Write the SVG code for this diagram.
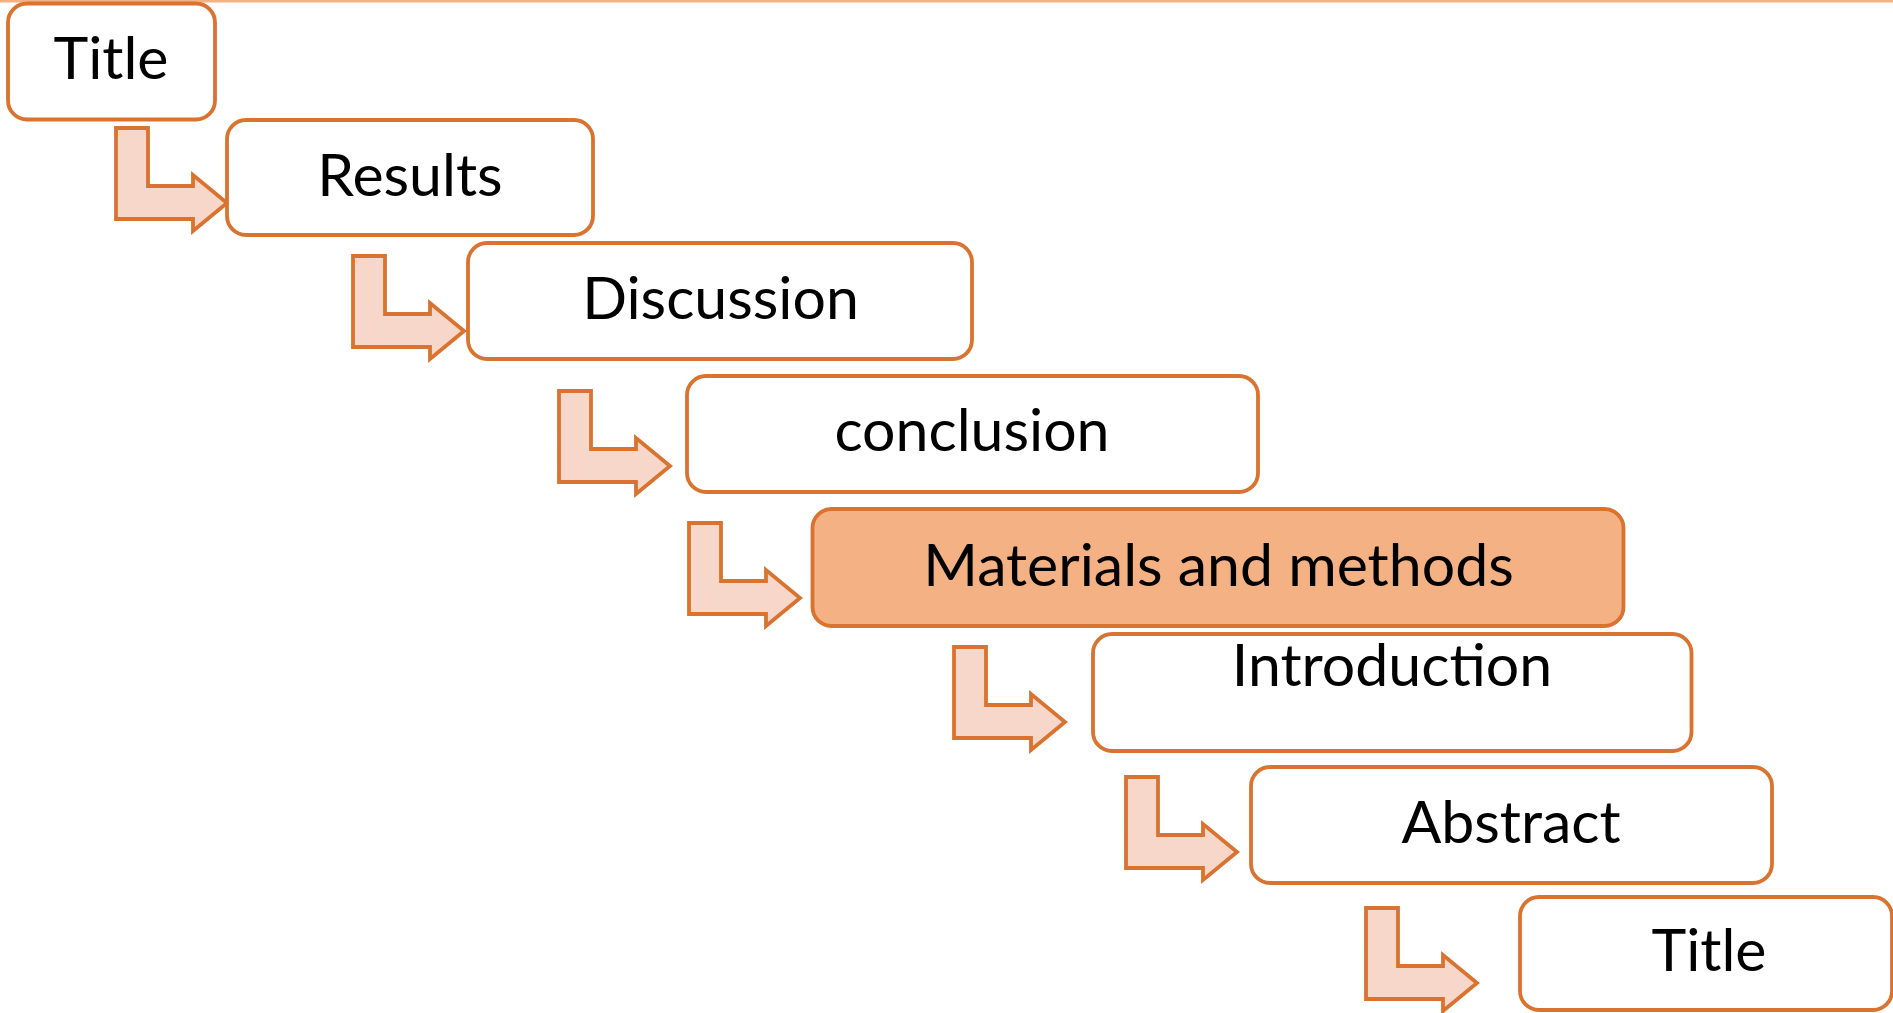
<svg xmlns="http://www.w3.org/2000/svg" width="1893" height="1013" viewBox="0 0 1893 1013">
<style>
.box{fill:#FFFFFF;stroke:#D9732F;stroke-width:3.8}
.hl{fill:#F4B183}
.arr{fill:#F8D7CB;stroke:#D9732F;stroke-width:3.8;stroke-linejoin:miter}
text{font-family:Lato,"Open Sans","Liberation Sans",sans-serif;font-size:59px;fill:#000000;text-anchor:middle}
</style>
<defs>
<path id="bent" d="M0,0 H32 V58 H77 V47 L111,75 L77,103 V91 H0 Z"/>
</defs>
<rect x="0" y="0" width="1893" height="2.5" fill="#F4B183"/>
<g id="connectors">
<use href="#bent" class="arr" x="116" y="128"/>
<use href="#bent" class="arr" x="353" y="256"/>
<use href="#bent" class="arr" x="559" y="391"/>
<use href="#bent" class="arr" x="689" y="523"/>
<use href="#bent" class="arr" x="954" y="647"/>
<use href="#bent" class="arr" x="1126" y="777"/>
<use href="#bent" class="arr" x="1366" y="908"/>
</g>
<g id="node-title1"><rect class="box" x="8" y="3.5" width="207" height="116" rx="19"/><text x="111" y="79">Title</text></g>
<g id="node-results"><rect class="box" x="227" y="120" width="366" height="115" rx="19"/><text x="410" y="196">Results</text></g>
<g id="node-discussion"><rect class="box" x="468" y="243" width="504" height="116" rx="19"/><text x="720.5" y="319">Discussion</text></g>
<g id="node-conclusion"><rect class="box" x="687" y="376" width="571" height="116" rx="19"/><text x="972" y="451">conclusion</text></g>
<g id="node-methods"><rect class="box hl" x="812.5" y="509" width="811" height="117" rx="19"/><text x="1218.5" y="586">Materials and methods</text></g>
<g id="node-introduction"><rect class="box" x="1093" y="634" width="598.5" height="117" rx="19"/><text x="1392" y="686">Introduction</text></g>
<g id="node-abstract"><rect class="box" x="1251" y="767" width="521" height="116" rx="19"/><text x="1511" y="843">Abstract</text></g>
<g id="node-title2"><rect class="box" x="1520" y="897" width="372" height="113" rx="19"/><text x="1709" y="971">Title</text></g>
</svg>
